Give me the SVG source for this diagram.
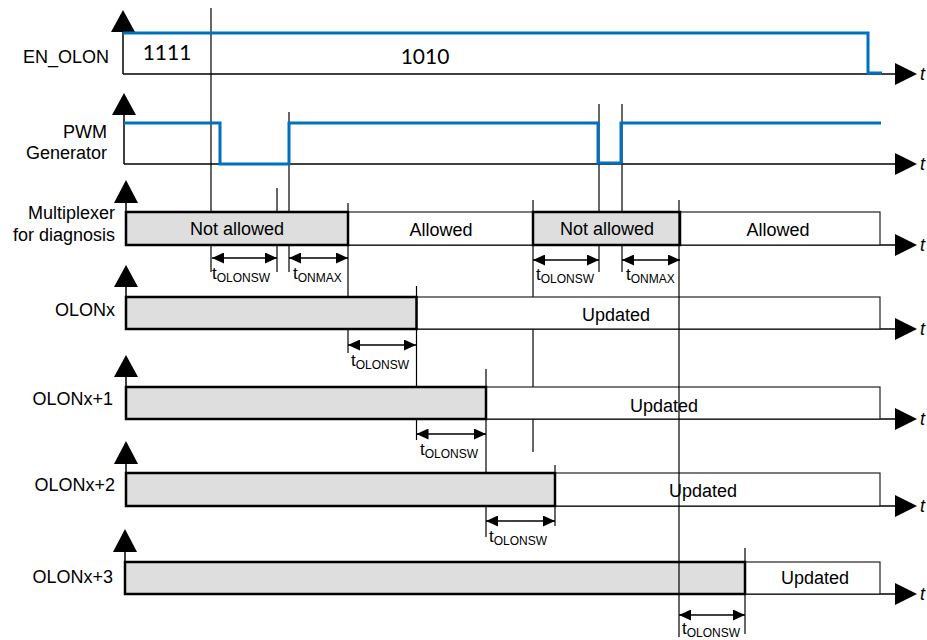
<svg xmlns="http://www.w3.org/2000/svg" width="927" height="640" viewBox="0 0 927 640">
<style>
.ax{stroke:#000;stroke-width:1.5;fill:none}
.vl{stroke:#000;stroke-width:1.2;fill:none}
.sig{stroke:#0070C0;stroke-width:3;fill:none;stroke-linejoin:miter}
.gb{fill:#DEDEDE;stroke:#000;stroke-width:2.5}
.wb{fill:#fff;stroke:#222;stroke-width:1.2}
.tri{fill:#000}
.lbl{font-family:"Liberation Sans",Arial,sans-serif;font-size:18px;fill:#000}
.num{font-family:Lato,"Open Sans",sans-serif;font-size:21px;fill:#000}
.t{font-family:"Liberation Sans",Arial,sans-serif;font-size:18px;font-style:italic;fill:#000}
.dt{font-family:"Liberation Sans",Arial,sans-serif;font-size:17px;fill:#000}
.dt tspan{font-size:12px}
.dim{stroke:#000;stroke-width:1.5;fill:none;marker-start:url(#ah);marker-end:url(#ah)}
</style>
<defs>
<marker id="ah" viewBox="0 0 12 11" refX="12" refY="5.5" markerWidth="12" markerHeight="11" markerUnits="userSpaceOnUse" orient="auto-start-reverse"><path d="M0,0 L12,5.5 L0,11 z" fill="#000"/></marker>
</defs>

<!-- vertical timing lines (behind boxes) -->
<g id="connectors">
<line class="vl" x1="211" y1="8" x2="211" y2="272"/>
<line class="vl" x1="277" y1="188" x2="277" y2="272"/>
<line class="vl" x1="289" y1="112" x2="289" y2="272"/>
<line class="vl" x1="348" y1="203" x2="348" y2="353"/>
<line class="vl" x1="416.5" y1="286" x2="416.5" y2="440"/>
<line class="vl" x1="486" y1="369" x2="486" y2="537"/>
<line class="vl" x1="555" y1="465" x2="555" y2="526"/>
<line class="vl" x1="533" y1="200" x2="533" y2="452"/>
<line class="vl" x1="599" y1="104" x2="599" y2="272"/>
<line class="vl" x1="622" y1="104" x2="622" y2="272"/>
<line class="vl" x1="745" y1="548" x2="745" y2="634"/>
</g>

<g id="en_olon">
<text class="lbl" x="109" y="63" text-anchor="end">EN_OLON</text>
<polygon class="tri" points="123,10 111,32 135,32"/>
<line class="ax" x1="123" y1="32" x2="123" y2="74"/>
<line class="ax" x1="123" y1="74" x2="895" y2="74"/>
<polygon class="tri" points="895,63 917,74 895,85"/>
<text class="t" x="920" y="80">t</text>
<polyline class="sig" points="123,33 868,33 868,73 882,73"/>
<text class="num" x="167" y="60" text-anchor="middle">1111</text>
<text class="num" x="425" y="64" text-anchor="middle">1010</text>
</g>

<g id="pwm">
<text class="lbl" x="107" y="138" text-anchor="end">PWM</text>
<text class="lbl" x="107" y="159" text-anchor="end">Generator</text>
<polygon class="tri" points="124,93 112,115 136,115"/>
<line class="ax" x1="124" y1="115" x2="124" y2="164"/>
<line class="ax" x1="124" y1="164" x2="895" y2="164"/>
<polygon class="tri" points="895,153 917,164 895,175"/>
<text class="t" x="920" y="170">t</text>
<polyline class="sig" points="124,123 220,123 220,164 289,164 289,123 598,123 598,163 621,163 621,123 881,123"/>
</g>

<g id="mux">
<text class="lbl" x="115" y="219" text-anchor="end">Multiplexer</text>
<text class="lbl" x="115" y="241" text-anchor="end">for diagnosis</text>
<polygon class="tri" points="126,180 114,203 138,203"/>
<line class="ax" x1="126" y1="203" x2="126" y2="212"/>
<line class="ax" x1="126" y1="245" x2="895" y2="245"/>
<polygon class="tri" points="895,234 917,245 895,256"/>
<text class="t" x="920" y="251">t</text>
<rect class="wb" x="348" y="212" width="185" height="33"/>
<rect class="wb" x="680" y="212" width="200" height="33"/>
<rect class="gb" x="126" y="212" width="222" height="33"/>
<rect class="gb" x="533" y="212" width="147" height="33"/>
<text class="lbl" x="237" y="235" text-anchor="middle">Not allowed</text>
<text class="lbl" x="441" y="236" text-anchor="middle">Allowed</text>
<text class="lbl" x="607" y="235" text-anchor="middle">Not allowed</text>
<text class="lbl" x="778" y="236" text-anchor="middle">Allowed</text>
</g>

<g id="olonx">
<text class="lbl" x="115" y="316" text-anchor="end">OLONx</text>
<polygon class="tri" points="126,265 114,287 138,287"/>
<line class="ax" x1="126" y1="287" x2="126" y2="297"/>
<line class="ax" x1="126" y1="329" x2="895" y2="329"/>
<polygon class="tri" points="895,318 917,329 895,340"/>
<text class="t" x="920" y="335">t</text>
<rect class="wb" x="416.5" y="297" width="463.5" height="32"/>
<rect class="gb" x="126" y="297" width="290.5" height="32"/>
<text class="lbl" x="616" y="321" text-anchor="middle">Updated</text>
</g>

<g id="olonx1">
<text class="lbl" x="113" y="405" text-anchor="end">OLONx+1</text>
<polygon class="tri" points="126,355 114,377 138,377"/>
<line class="ax" x1="126" y1="377" x2="126" y2="387"/>
<line class="ax" x1="126" y1="419" x2="895" y2="419"/>
<polygon class="tri" points="895,408 917,419 895,430"/>
<text class="t" x="920" y="425">t</text>
<rect class="wb" x="486" y="387" width="394" height="32"/>
<rect class="gb" x="126" y="387" width="360" height="32"/>
<text class="lbl" x="664" y="412" text-anchor="middle">Updated</text>
</g>

<g id="olonx2">
<text class="lbl" x="115" y="491" text-anchor="end">OLONx+2</text>
<polygon class="tri" points="126,441 114,464 138,464"/>
<line class="ax" x1="126" y1="464" x2="126" y2="473"/>
<line class="ax" x1="126" y1="506" x2="895" y2="506"/>
<polygon class="tri" points="895,495 917,506 895,517"/>
<text class="t" x="920" y="512">t</text>
<rect class="wb" x="555" y="473" width="325" height="33"/>
<rect class="gb" x="126" y="473" width="429" height="33"/>
<text class="lbl" x="703" y="497" text-anchor="middle">Updated</text>
</g>

<g id="olonx3">
<text class="lbl" x="113" y="583" text-anchor="end">OLONx+3</text>
<polygon class="tri" points="125,529 113,552 137,552"/>
<line class="ax" x1="125" y1="552" x2="125" y2="562"/>
<line class="ax" x1="125" y1="594" x2="895" y2="594"/>
<polygon class="tri" points="895,583 917,594 895,605"/>
<text class="t" x="920" y="600">t</text>
<rect class="wb" x="745" y="562" width="135" height="32"/>
<rect class="gb" x="125" y="562" width="620" height="32"/>
<text class="lbl" x="815" y="584" text-anchor="middle">Updated</text>
</g>

<!-- line crossing on top + dimension arrows -->
<g id="dimensions">
<line class="vl" x1="679" y1="200" x2="679" y2="637"/>
<line class="dim" x1="212" y1="258" x2="277" y2="258"/>
<line class="dim" x1="289" y1="258" x2="348" y2="258"/>
<line class="dim" x1="533" y1="260" x2="599" y2="260"/>
<line class="dim" x1="622" y1="260" x2="680" y2="260"/>
<line class="dim" x1="348" y1="345" x2="416" y2="345"/>
<line class="dim" x1="416.5" y1="434" x2="486" y2="434"/>
<line class="dim" x1="486" y1="521" x2="555" y2="521"/>
<line class="dim" x1="679" y1="615" x2="745" y2="615"/>
<text class="dt" x="212" y="279">t<tspan dy="3">OLONSW</tspan></text>
<text class="dt" x="293" y="279">t<tspan dy="3">ONMAX</tspan></text>
<text class="dt" x="536" y="280">t<tspan dy="3">OLONSW</tspan></text>
<text class="dt" x="626" y="280">t<tspan dy="3">ONMAX</tspan></text>
<text class="dt" x="351" y="366">t<tspan dy="3">OLONSW</tspan></text>
<text class="dt" x="420" y="455">t<tspan dy="3">OLONSW</tspan></text>
<text class="dt" x="489" y="542">t<tspan dy="3">OLONSW</tspan></text>
<text class="dt" x="682" y="634">t<tspan dy="3">OLONSW</tspan></text>
</g>
</svg>
